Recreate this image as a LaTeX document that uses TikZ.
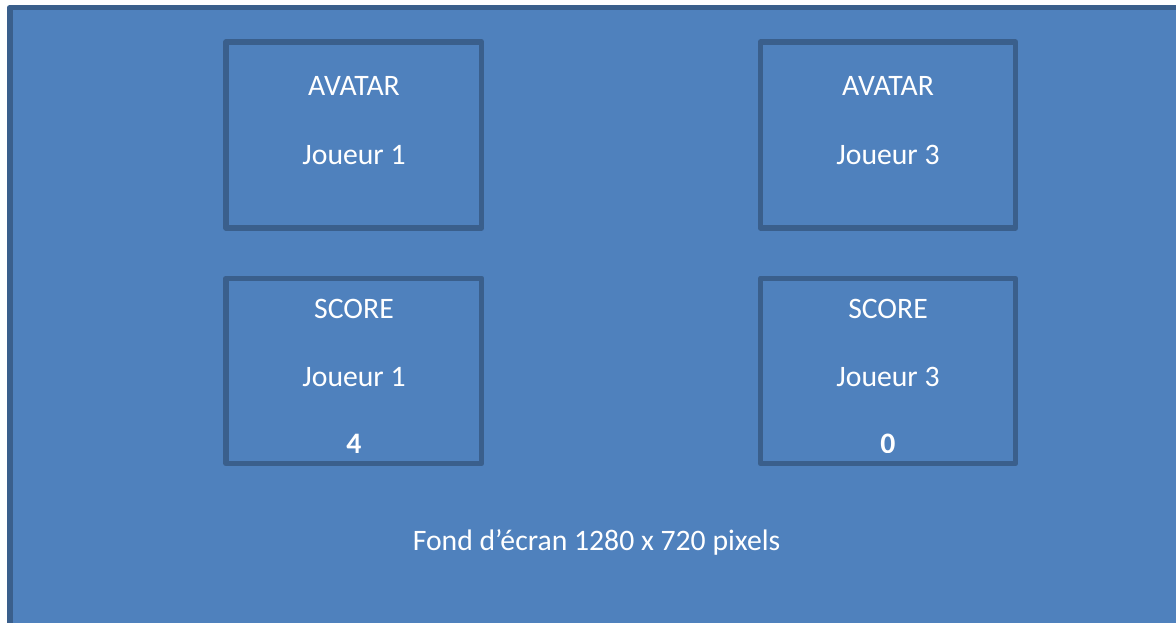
\documentclass[tikz,border=0pt]{standalone}
\usepackage{fontspec}
\setmainfont{Carlito}
\definecolor{fillblue}{HTML}{4F81BD}
\definecolor{edgeblue}{HTML}{3A5F8C}
\begin{document}
\begin{tikzpicture}[x=1pt,y=-1pt,
  panel/.style={draw=edgeblue,line width=5.5pt,fill=fillblue,line join=round},
  lbl/.style={text=white,anchor=base,inner sep=0pt,font=\fontsize{29.7}{34}\selectfont},
  num/.style={lbl,font=\fontsize{29.7}{34}\selectfont\bfseries}]
\useasboundingbox (0,0) rectangle (1176,622);
\fill[white] (0,0) rectangle (1176,622);
% background screen
\draw[panel] (9.8,7.5) rectangle (1190,640);
% boxes
\draw[panel] (226,42) rectangle (481.7,228) coordinate (a1);
\draw[panel] (760.5,42) rectangle (1015.5,228) coordinate (a3);
\draw[panel] (226,278.3) rectangle (481.7,463.5) coordinate (s1);
\draw[panel] (760.5,278.3) rectangle (1015.5,463.5) coordinate (s3);
% texts
\node[lbl] (av1) at (354,95) {AVATAR};
\node[lbl] (j1a) at (354,164) {Joueur 1};
\node[lbl] (av3) at (888,95) {AVATAR};
\node[lbl] (j3a) at (888,164) {Joueur 3};
\node[lbl] (sc1) at (354,318.3) {SCORE};
\node[lbl] (j1s) at (354,386) {Joueur 1};
\node[lbl] (sc3) at (888,318.3) {SCORE};
\node[lbl] (j3s) at (888,386) {Joueur 3};
\begin{scope}
\clip (200,300) rectangle (1100,452);
\node[num] (n1) at (354,453) {4};
\node[num] (n3) at (888,453) {0};
\end{scope}
\node[lbl] (fond) at (596.5,550) {Fond d’écran 1280 x 720 pixels};
\end{tikzpicture}
\end{document}
